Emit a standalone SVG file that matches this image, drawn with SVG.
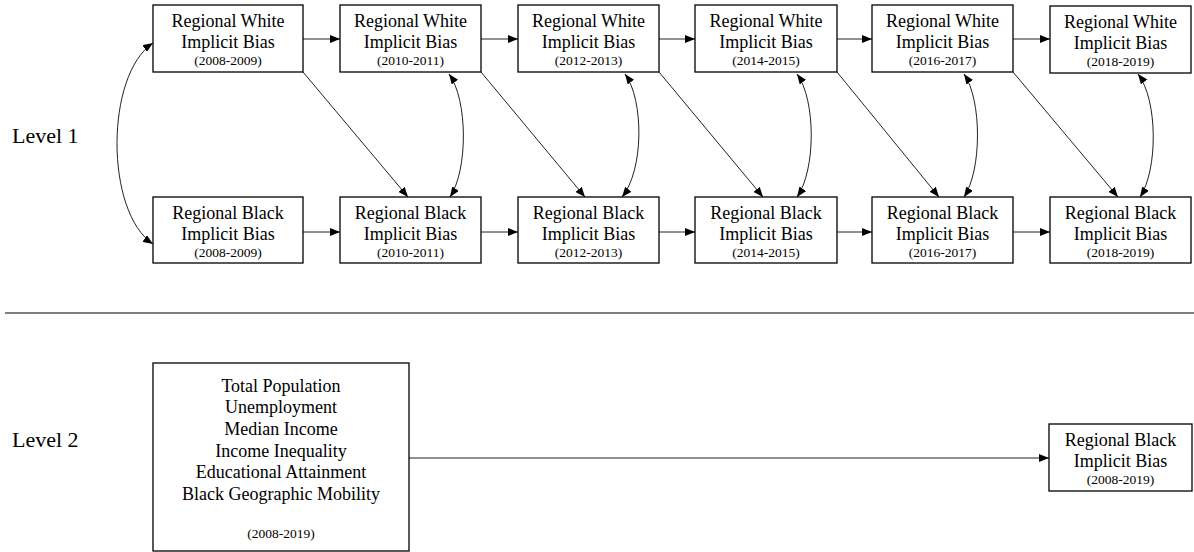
<svg xmlns="http://www.w3.org/2000/svg" width="1194" height="552" viewBox="0 0 1194 552">
<style>
text{font-family:"Liberation Serif","Times New Roman",serif;fill:#000;text-anchor:middle}
.t{font-size:18px}
.y{font-size:13.5px}
.lvl{font-size:22px;text-anchor:start}
.box{fill:#fff;stroke:#000;stroke-width:1.3}
.c{fill:none;stroke:#222;stroke-width:1}
.a{marker-end:url(#ah)}
.d{marker-start:url(#ah);marker-end:url(#ah)}
</style>
<defs>
<marker id="ah" viewBox="0 0 10 8" refX="10" refY="4" markerWidth="10" markerHeight="8" markerUnits="userSpaceOnUse" orient="auto-start-reverse">
<path d="M0,0 L10,4 L0,8 Z" fill="#000"/>
</marker>
</defs>
<rect width="1194" height="552" fill="#fff"/>
<text class="lvl" x="12" y="143">Level 1</text>
<text class="lvl" x="12" y="447">Level 2</text>
<line x1="5" y1="313" x2="1194" y2="313" stroke="#555" stroke-width="1.5"/>
<g id="connectors">
<path class="c a" d="M303,39 H340"/>
<path class="c a" d="M481,39 H518"/>
<path class="c a" d="M659,39 H695"/>
<path class="c a" d="M837,39 H872"/>
<path class="c a" d="M1013,39 H1050"/>
<path class="c a" d="M303,232 H340"/>
<path class="c a" d="M481,232 H518"/>
<path class="c a" d="M659,232 H695"/>
<path class="c a" d="M837,232 H872"/>
<path class="c a" d="M1013,232 H1050"/>
<path class="c a" d="M303,72 L408,197"/>
<path class="c a" d="M481,72 L585,197"/>
<path class="c a" d="M659,72 L763,197"/>
<path class="c a" d="M837,72 L939,197"/>
<path class="c a" d="M1013,72 L1118,197"/>
<path class="c d" d="M153,43 C105,75 105,212 153,244"/>
<path class="c d" d="M449,74 C468,100 468,170 450,197"/>
<path class="c d" d="M625,74 C644,100 644,170 622,197"/>
<path class="c d" d="M797,74 C816,100 816,170 797,197"/>
<path class="c d" d="M964,74 C982,100 982,170 964,197"/>
<path class="c d" d="M1138,74 C1158,100 1158,170 1140,197"/>
<path class="c a" d="M409,458 H1049"/>
</g>
<g id="w1"><rect class="box" x="153" y="5" width="150" height="67"/><text class="t" x="228" y="27">Regional White</text><text class="t" x="228" y="48">Implicit Bias</text><text class="y" x="228" y="65">(2008-2009)</text></g>
<g id="w2"><rect class="box" x="340" y="5" width="141" height="67"/><text class="t" x="410.5" y="27">Regional White</text><text class="t" x="410.5" y="48">Implicit Bias</text><text class="y" x="410.5" y="65">(2010-2011)</text></g>
<g id="w3"><rect class="box" x="518" y="5" width="141" height="67"/><text class="t" x="588.5" y="27">Regional White</text><text class="t" x="588.5" y="48">Implicit Bias</text><text class="y" x="588.5" y="65">(2012-2013)</text></g>
<g id="w4"><rect class="box" x="695" y="5" width="142" height="67"/><text class="t" x="766" y="27">Regional White</text><text class="t" x="766" y="48">Implicit Bias</text><text class="y" x="766" y="65">(2014-2015)</text></g>
<g id="w5"><rect class="box" x="872" y="5" width="141" height="67"/><text class="t" x="942.5" y="27">Regional White</text><text class="t" x="942.5" y="48">Implicit Bias</text><text class="y" x="942.5" y="65">(2016-2017)</text></g>
<g id="w6"><rect class="box" x="1050" y="6" width="141" height="67"/><text class="t" x="1120.5" y="28">Regional White</text><text class="t" x="1120.5" y="49">Implicit Bias</text><text class="y" x="1120.5" y="66">(2018-2019)</text></g>
<g id="b1"><rect class="box" x="153" y="197" width="150" height="66"/><text class="t" x="228" y="219">Regional Black</text><text class="t" x="228" y="240">Implicit Bias</text><text class="y" x="228" y="257">(2008-2009)</text></g>
<g id="b2"><rect class="box" x="340" y="197" width="141" height="66"/><text class="t" x="410.5" y="219">Regional Black</text><text class="t" x="410.5" y="240">Implicit Bias</text><text class="y" x="410.5" y="257">(2010-2011)</text></g>
<g id="b3"><rect class="box" x="518" y="197" width="141" height="66"/><text class="t" x="588.5" y="219">Regional Black</text><text class="t" x="588.5" y="240">Implicit Bias</text><text class="y" x="588.5" y="257">(2012-2013)</text></g>
<g id="b4"><rect class="box" x="695" y="197" width="142" height="66"/><text class="t" x="766" y="219">Regional Black</text><text class="t" x="766" y="240">Implicit Bias</text><text class="y" x="766" y="257">(2014-2015)</text></g>
<g id="b5"><rect class="box" x="872" y="197" width="141" height="66"/><text class="t" x="942.5" y="219">Regional Black</text><text class="t" x="942.5" y="240">Implicit Bias</text><text class="y" x="942.5" y="257">(2016-2017)</text></g>
<g id="b6"><rect class="box" x="1050" y="197" width="141" height="66"/><text class="t" x="1120.5" y="219">Regional Black</text><text class="t" x="1120.5" y="240">Implicit Bias</text><text class="y" x="1120.5" y="257">(2018-2019)</text></g>
<g id="covariates"><rect class="box" x="153" y="363" width="256" height="188"/>
<text class="t" x="281" y="392">Total Population</text>
<text class="t" x="281" y="413">Unemployment</text>
<text class="t" x="281" y="435">Median Income</text>
<text class="t" x="281" y="457">Income Inequality</text>
<text class="t" x="281" y="478">Educational Attainment</text>
<text class="t" x="281" y="500">Black Geographic Mobility</text>
<text class="y" x="281" y="538">(2008-2019)</text></g>
<g id="b_all"><rect class="box" x="1049" y="424" width="143" height="67"/><text class="t" x="1120.5" y="446">Regional Black</text><text class="t" x="1120.5" y="467">Implicit Bias</text><text class="y" x="1120.5" y="484">(2008-2019)</text></g>
</svg>
